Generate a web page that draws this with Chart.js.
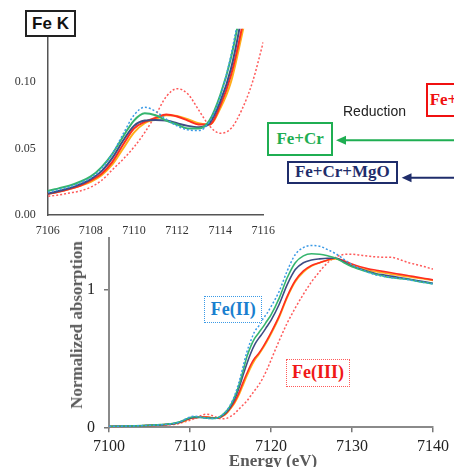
<!DOCTYPE html>
<html><head><meta charset="utf-8">
<script src="https://cdn.jsdelivr.net/npm/chart.js@4.4.1/dist/chart.umd.min.js"></script>
<style>
html,body{margin:0;padding:0;background:#fff;width:454px;height:467px;overflow:hidden;position:relative}
canvas{position:absolute;left:0;top:0}
.box{position:absolute;box-sizing:border-box;display:flex;align-items:center;justify-content:center;background:#fff;white-space:nowrap}
.serif{font-family:"Liberation Serif","Times New Roman",serif;font-weight:bold}
.txt{position:absolute;white-space:nowrap}
</style></head><body>
<canvas id="mainChart" width="454" height="467" style="width:454px;height:467px"></canvas>
<canvas id="insetChart" width="454" height="467" style="width:454px;height:467px"></canvas>

<svg width="454" height="467" style="position:absolute;left:0;top:0;pointer-events:none">
  <line x1="456" y1="140.3" x2="344" y2="140.3" stroke="#1fae52" stroke-width="2"/>
  <polygon points="336,140.3 346,135.8 346,144.8" fill="#1fae52"/>
  <line x1="456" y1="177.7" x2="409" y2="177.7" stroke="#1f2d6b" stroke-width="2"/>
  <polygon points="401.7,177.7 411.5,173.2 411.5,182.2" fill="#1f2d6b"/>
</svg>

<div class="box" style="left:25px;top:10px;width:51px;height:27px;border:2px solid #222;font:bold 17px 'Liberation Sans',Arial,sans-serif;color:#111">Fe K</div>
<div class="txt" style="left:343px;top:103px;font:14px 'Liberation Sans',Arial,sans-serif;color:#222">Reduction</div>
<div class="box serif" style="left:425.7px;top:82.7px;width:70px;height:34px;border:2px solid #f01010;color:#f01010;font-size:17px;justify-content:flex-start;padding-left:2px">Fe+</div>
<div class="box serif" style="left:267.3px;top:122.3px;width:65.7px;height:33.7px;border:2.5px solid #1fae52;color:#1fae52;font-size:17px">Fe+Cr</div>
<div class="box serif" style="left:286.7px;top:160.7px;width:111.3px;height:23.6px;border:2px solid #1f2d6b;color:#1f2d6b;font-size:17px">Fe+Cr+MgO</div>
<div class="box serif" style="left:204px;top:295.7px;width:58.3px;height:27.6px;border:1.5px dotted #3a9ae6;color:#1a7fcf;font-size:18px">Fe(II)</div>
<div class="box serif" style="left:286px;top:358.7px;width:64px;height:28px;border:1.5px dotted #ff5a5a;color:#f01818;font-size:18px">Fe(III)</div>
<div class="txt serif" style="left:77px;top:325px;transform:translate(-50%,-50%) rotate(-90deg);font-size:17px;color:#5a5a5a">Normalized absorption</div>
<div class="txt serif" style="left:273px;top:461px;transform:translate(-50%,-50%);font-size:17px;color:#5a5a5a">Energy (eV)</div>

<script>
// ---- data ----
const energy = [7100,7102,7104,
  7106,7106.5,7107,7107.5,7108,7108.5,7109,7109.5,7110,7110.5,
  7111,7111.5,7112,7112.5,7113,7113.5,7114,7114.5,7115,7115.5,
  7116,7116.5,7117,7117.5,7118,7118.5,7119,7119.5,7120,
  7121,7122,7123,7124,7125,7126,7127,7128,7129,7130,
  7131,7132,7133,7134,7135,7136,7137,7138,7139,7140];

const feII = [0.007,0.009,0.012,
  0.017,0.019,0.021,0.024,0.028,0.035,0.046,0.061,0.075,0.081,
  0.078,0.072,0.067,0.064,0.0635,0.070,0.089,0.120,0.165,0.230,
  0.320,0.430,0.545,0.630,0.700,0.740,0.790,0.830,0.880,
  0.990,1.140,1.260,1.310,1.326,1.320,1.295,1.265,1.225,1.185,
  1.155,1.130,1.110,1.100,1.090,1.085,1.075,1.065,1.055,1.045];

const feIII = [0.006,0.008,0.010,
  0.014,0.015,0.0165,0.018,0.021,0.026,0.034,0.042,0.051,0.062,
  0.075,0.089,0.095,0.091,0.079,0.067,0.0615,0.065,0.079,0.100,
  0.130,0.160,0.190,0.230,0.270,0.310,0.360,0.420,0.490,
  0.630,0.760,0.870,0.970,1.060,1.135,1.200,1.240,1.260,1.262,
  1.255,1.248,1.242,1.240,1.238,1.220,1.200,1.185,1.170,1.153];

const feCr = [0.007,0.009,0.012,
  0.018,0.020,0.022,0.025,0.029,0.036,0.046,0.059,0.071,0.0765,
  0.075,0.071,0.068,0.065,0.065,0.071,0.090,0.118,0.160,0.220,
  0.300,0.400,0.510,0.590,0.650,0.690,0.730,0.775,0.820,
  0.940,1.090,1.200,1.250,1.265,1.262,1.250,1.233,1.200,1.170,
  1.150,1.130,1.115,1.100,1.090,1.083,1.078,1.065,1.055,1.046];

const feCrMgO = [0.006,0.008,0.011,
  0.016,0.018,0.020,0.023,0.027,0.033,0.043,0.056,0.067,0.071,
  0.0715,0.071,0.069,0.067,0.066,0.069,0.085,0.110,0.150,0.205,
  0.280,0.370,0.460,0.540,0.605,0.650,0.690,0.735,0.780,
  0.895,1.040,1.150,1.200,1.220,1.228,1.232,1.232,1.205,1.175,
  1.155,1.135,1.120,1.110,1.100,1.090,1.080,1.070,1.060,1.050];

const feRed = [0.006,0.008,0.011,
  0.016,0.0175,0.0195,0.022,0.026,0.031,0.040,0.053,0.065,0.070,
  0.073,0.0755,0.074,0.071,0.068,0.068,0.082,0.105,0.140,0.185,
  0.245,0.320,0.390,0.455,0.505,0.540,0.585,0.635,0.690,
  0.810,0.955,1.070,1.140,1.180,1.200,1.220,1.232,1.215,1.190,
  1.170,1.155,1.145,1.135,1.125,1.115,1.105,1.095,1.085,1.075];

const feOrange = [0.006,0.008,0.011,
  0.016,0.0175,0.0195,0.022,0.025,0.030,0.038,0.050,0.062,0.069,
  0.072,0.075,0.0745,0.072,0.069,0.068,0.080,0.100,0.135,0.175,
  0.230,0.300,0.370,0.435,0.490,0.530,0.575,0.625,0.680,
  0.800,0.945,1.060,1.130,1.175,1.200,1.218,1.228,1.210,1.180,
  1.160,1.145,1.135,1.125,1.115,1.105,1.097,1.088,1.080,1.070];

const mainXTicks = [7100,7110,7120,7130,7140];
const mainYTicks = [0,1];
const insetXTicks = [7106,7108,7110,7112,7114,7116];
const insetYTicks = [0,0.05,0.10];

// ---- styles ----
const seriesList = [
  {label:'Fe(II)', values:feII, color:'#3a9ae6', dash:[2,2]},
  {label:'Fe+Cr', values:feCr, color:'#35b56e', dash:[]},
  {label:'Fe+Cr+MgO', values:feCrMgO, color:'#3f4c84', dash:[]},
  {label:'Fe+', values:feRed, color:'#ff2d20', dash:[]},
  {label:'sample', values:feOrange, color:'#ffae1a', dash:[]},
  {label:'Fe(III)', values:feIII, color:'#ff5a5a', dash:[2,2]}
];

function buildDatasets(solidW, dotW){
  return seriesList.map(s => ({
    label:s.label,
    data: energy.map((e,i)=>({x:e, y:s.values[i]})),
    borderColor:s.color,
    borderWidth: s.dash.length ? dotW : solidW,
    borderDash:s.dash,
    pointRadius:0,
    cubicInterpolationMode:'monotone',
    fill:false
  }));
}

const serif = '"Liberation Serif","Times New Roman",serif';

new Chart(document.getElementById('mainChart'), {
  type:'line',
  data:{datasets:buildDatasets(1.6,1.5)},
  options:{
    responsive:false, animation:false,
    layout:{padding:{top:238,right:17,left:0,bottom:0}},
    plugins:{legend:{display:false},tooltip:{enabled:false}},
    scales:{
      x:{type:'linear',min:7100,max:7140,
        afterBuildTicks:s=>{s.ticks=mainXTicks.map(v=>({value:v}));},
        afterFit:s=>{s.height=467-427.3;},
        grid:{display:true,drawOnChartArea:false,drawTicks:true,tickLength:5,color:'#777',lineWidth:1.5},
        border:{display:true,color:'#8a8a8a',width:2},
        ticks:{font:{family:serif,size:16},color:'#222',padding:5,maxRotation:0,autoSkip:false,callback:v=>String(v)}
      },
      y:{type:'linear',min:0,max:1.38,
        afterBuildTicks:s=>{s.ticks=mainYTicks.map(v=>({value:v}));},
        afterFit:s=>{s.width=109;},
        grid:{display:true,drawOnChartArea:false,drawTicks:true,tickLength:5,color:'#777',lineWidth:1.5},
        border:{display:true,color:'#8a8a8a',width:2},
        ticks:{font:{family:serif,size:16},color:'#222',padding:9,callback:v=>String(v)}
      }
    }
  }
});

new Chart(document.getElementById('insetChart'), {
  type:'line',
  data:{datasets:buildDatasets(2,1.5)},
  options:{
    responsive:false, animation:false,
    layout:{padding:{top:28.8,right:190.7,left:0,bottom:0}},
    plugins:{legend:{display:false},tooltip:{enabled:false}},
    scales:{
      x:{type:'linear',min:7106,max:7116,
        afterBuildTicks:s=>{s.ticks=insetXTicks.map(v=>({value:v}));},
        afterFit:s=>{s.height=467-215;},
        grid:{display:false,drawTicks:false},
        border:{display:true,color:'#555',width:1.5},
        ticks:{font:{family:serif,size:12},color:'#333',padding:9,maxRotation:0,autoSkip:false,callback:v=>String(v)}
      },
      y:{type:'linear',min:0,max:0.14,
        afterBuildTicks:s=>{s.ticks=insetYTicks.map(v=>({value:v}));},
        afterFit:s=>{s.width=47.7;},
        grid:{display:false,drawTicks:false},
        border:{display:true,color:'#555',width:1.5},
        ticks:{font:{family:serif,size:12},color:'#333',padding:12,callback:v=>Number(v).toFixed(2)}
      }
    }
  }
});
</script>
</body></html>
